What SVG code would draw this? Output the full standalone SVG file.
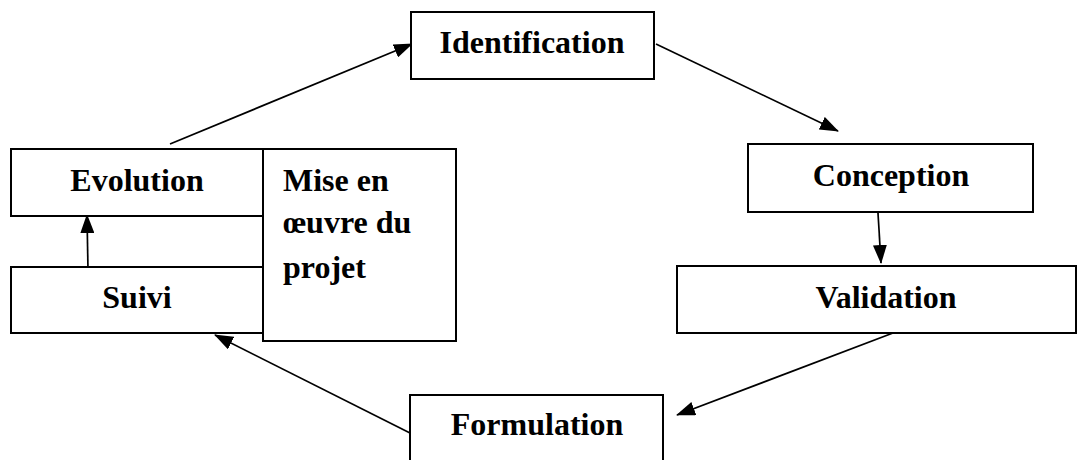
<svg xmlns="http://www.w3.org/2000/svg" width="1087" height="460" viewBox="0 0 1087 460">
<style>
.box{fill:#fff;stroke:#000;stroke-width:2}
.t{font-family:"Liberation Serif","Times New Roman",serif;font-weight:bold;font-size:32px;fill:#000}
.c{text-anchor:middle}
.ln{stroke:#000;stroke-width:1.7;fill:none;marker-end:url(#ah)}
</style>
<defs>
<marker id="ah" markerWidth="19" markerHeight="14" refX="18" refY="7" orient="auto" markerUnits="userSpaceOnUse">
<path d="M0,0 L19,7 L0,14 z" fill="#000"/>
</marker>
</defs>
<g id="connectors">
<line class="ln" x1="170" y1="144" x2="412" y2="44"/>
<line class="ln" x1="656" y1="44" x2="838" y2="131"/>
<line class="ln" x1="878" y1="213" x2="881" y2="263"/>
<line class="ln" x1="893" y1="333" x2="677" y2="415"/>
<line class="ln" x1="410" y1="433" x2="215" y2="335"/>
<line class="ln" x1="88" y1="270" x2="87" y2="215"/>
</g>
<g id="identification">
<rect class="box" x="411" y="12" width="243" height="67"/>
<text class="t c" x="532" y="53">Identification</text>
</g>
<g id="conception">
<rect class="box" x="748" y="144" width="285" height="68"/>
<text class="t c" x="891" y="186">Conception</text>
</g>
<g id="validation">
<rect class="box" x="677" y="266" width="399" height="67"/>
<text class="t c" x="886" y="308">Validation</text>
</g>
<g id="formulation">
<rect class="box" x="410" y="395" width="253" height="80"/>
<text class="t c" x="537" y="435">Formulation</text>
</g>
<g id="evolution">
<rect class="box" x="11" y="149" width="270" height="67"/>
<text class="t c" x="137" y="191">Evolution</text>
</g>
<g id="suivi">
<rect class="box" x="11" y="267" width="270" height="66"/>
<text class="t c" x="137" y="308">Suivi</text>
</g>
<g id="mise-en-oeuvre">
<rect class="box" x="263" y="149" width="193" height="192"/>
<text class="t" x="283" y="191">Mise en</text>
<text class="t" x="283" y="233">œuvre du</text>
<text class="t" x="283" y="278">projet</text>
</g>
</svg>
